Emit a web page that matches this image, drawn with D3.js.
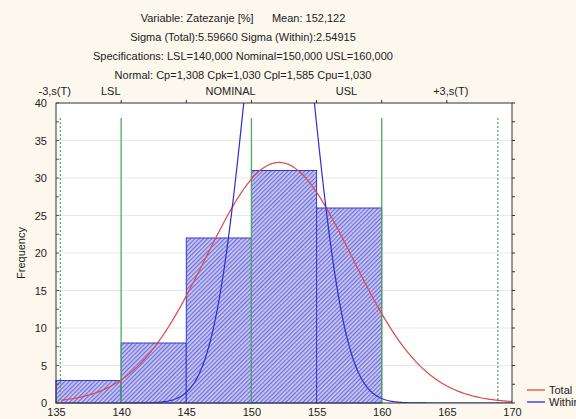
<!DOCTYPE html>
<html>
<head>
<meta charset="utf-8">
<script src="https://cdn.jsdelivr.net/npm/d3@7"></script>
<style>
  body { margin: 0; background: #fcf8ee; overflow: hidden; }
  text { font-family: "Liberation Sans", Arial, sans-serif; font-size: 11px; fill: #222; }
</style>
</head>
<body>
<svg id="chart" width="576" height="419" style="display:block"></svg>
<script>
// histogram bins (lower edge, upper edge, count)
const binStart = [135, 140, 145, 150, 155];
const binEnd = [140, 145, 150, 155, 160];
const binCount = [3, 8, 22, 31, 26];

// fit parameters as printed in the header
const mean = 152.122;
const sigmaTotal = 5.59660;
const sigmaWithin = 2.54915;

const specNames = ["LSL", "NOMINAL", "USL"];
const specValues = [140, 150, 160];
const sigmaLimits = [mean - 3 * sigmaTotal, mean + 3 * sigmaTotal];

const titleLines = [
  "Variable: Zatezanje [%]      Mean: 152,122",
  "Sigma (Total):5.59660 Sigma (Within):2.54915",
  "Specifications: LSL=140,000 Nominal=150,000 USL=160,000",
  "Normal: Cp=1,308 Cpk=1,030 Cpl=1,585 Cpu=1,030"
];
const topLabels = ["-3,s(T)", "LSL", "NOMINAL", "USL", "+3,s(T)"];
const topLabelAt = [134.9, 139.2, 148.4, 157.3, 165.3];
const xTicks = [135, 140, 145, 150, 155, 160, 165, 170];
const yTicks = [0, 5, 10, 15, 20, 25, 30, 35, 40];

const svg = d3.select("#chart");
const pLeft = 56, pRight = 512, pTop = 103, pBottom = 403;

const x = d3.scaleLinear().domain([135, 170]).range([pLeft, pRight]);
const y = d3.scaleLinear().domain([0, 40]).range([pBottom, pTop]);

// hatch pattern for bars
const defs = svg.append("defs");
const pat = defs.append("pattern")
  .attr("id", "hatch")
  .attr("patternUnits", "userSpaceOnUse")
  .attr("width", 3).attr("height", 3)
  .attr("patternTransform", "rotate(-45)");
pat.append("rect").attr("width", 3).attr("height", 3).attr("fill", "#cacaf5");
pat.append("rect").attr("width", 3).attr("height", 1.2).attr("fill", "#6c6cd8");

defs.append("clipPath").attr("id", "plotClip")
  .append("rect").attr("x", pLeft).attr("y", pTop)
  .attr("width", pRight - pLeft).attr("height", pBottom - pTop);

// plot area
svg.append("rect").attr("x", pLeft).attr("y", pTop)
  .attr("width", pRight - pLeft).attr("height", pBottom - pTop)
  .attr("fill", "#fff");

// gridlines
svg.append("g").selectAll("line")
  .data(yTicks.filter(t => t > 0 && t < 40))
  .enter().append("line")
  .attr("x1", pLeft).attr("x2", pRight)
  .attr("y1", d => y(d)).attr("y2", d => y(d))
  .attr("stroke", "#e8e8e8");

// bars
svg.append("g").selectAll("rect")
  .data(binCount)
  .enter().append("rect")
  .attr("x", (d, i) => x(binStart[i]))
  .attr("width", (d, i) => x(binEnd[i]) - x(binStart[i]))
  .attr("y", d => y(d))
  .attr("height", d => y(0) - y(d))
  .attr("fill", "url(#hatch)")
  .attr("stroke", "#3838cc")
  .attr("stroke-width", 1);

// spec lines
svg.append("g").selectAll("line")
  .data(specValues)
  .enter().append("line")
  .attr("x1", d => x(d)).attr("x2", d => x(d))
  .attr("y1", y(38)).attr("y2", y(0))
  .attr("stroke", "#4caa58").attr("stroke-width", 1.3);

// +-3 sigma lines
svg.append("g").selectAll("line")
  .data(sigmaLimits)
  .enter().append("line")
  .attr("x1", d => x(d)).attr("x2", d => x(d))
  .attr("y1", y(38)).attr("y2", y(0))
  .attr("stroke", "#4caa58").attr("stroke-width", 1.2)
  .attr("stroke-dasharray", "2,2");

// fitted normal curves
const total = d3.sum(binCount);
const binWidth = binEnd[0] - binStart[0];
function normal(v, s) {
  return total * binWidth / (s * Math.sqrt(2 * Math.PI)) * Math.exp(-0.5 * ((v - mean) / s) ** 2);
}
const xs = d3.range(135.4, 170.01, 0.1);
const line = d3.line().x(d => x(d[0])).y(d => y(d[1]));

const curves = svg.append("g").attr("clip-path", "url(#plotClip)");
curves.append("path")
  .datum(xs.map(v => [v, normal(v, sigmaTotal)]))
  .attr("d", line).attr("fill", "none")
  .attr("stroke", "#e04848").attr("stroke-width", 1.2);
curves.append("path")
  .datum(xs.filter(v => v > 140).map(v => [v, normal(v, sigmaWithin)]))
  .attr("d", line).attr("fill", "none")
  .attr("stroke", "#2e2ed0").attr("stroke-width", 1.2);

// frame
svg.append("rect").attr("x", pLeft).attr("y", pTop)
  .attr("width", pRight - pLeft).attr("height", pBottom - pTop)
  .attr("fill", "none").attr("stroke", "#333");

// axes
svg.append("g").attr("transform", `translate(0,${pBottom})`)
  .call(d3.axisBottom(x).tickValues(xTicks).tickSize(0).tickPadding(5))
  .call(g => g.select(".domain").remove())
  .selectAll("text").attr("fill", "#222").style("font-size", "11px");

svg.append("g").attr("transform", `translate(${pLeft},0)`)
  .call(d3.axisLeft(y).tickValues(yTicks).tickSize(0).tickPadding(9))
  .call(g => g.select(".domain").remove())
  .selectAll("text").attr("fill", "#222").style("font-size", "11px");

// small ticks on top and right edges
svg.append("g").selectAll("line")
  .data(xTicks.slice(1, -1))
  .enter().append("line")
  .attr("x1", d => x(d)).attr("x2", d => x(d))
  .attr("y1", pTop - 3).attr("y2", pTop)
  .attr("stroke", "#333");
const minorY = d3.range(0, 41, 2.5);
svg.append("g").selectAll("line")
  .data(minorY)
  .enter().append("line")
  .attr("x1", pRight).attr("x2", pRight + 3)
  .attr("y1", d => y(d)).attr("y2", d => y(d))
  .attr("stroke", "#333");
svg.append("g").selectAll("line")
  .data(minorY)
  .enter().append("line")
  .attr("x1", pLeft).attr("x2", pLeft + 3)
  .attr("y1", d => y(d)).attr("y2", d => y(d))
  .attr("stroke", "#555");

// y title
svg.append("text")
  .attr("transform", `translate(25,${(pTop + pBottom) / 2}) rotate(-90)`)
  .attr("text-anchor", "middle")
  .text("Frequency");

// header
svg.append("g").selectAll("text")
  .data(titleLines)
  .enter().append("text")
  .attr("x", 243).attr("y", (d, i) => 22 + i * 19)
  .attr("text-anchor", "middle")
  .attr("xml:space", "preserve")
  .text(d => d);

svg.append("g").selectAll("text")
  .data(topLabels)
  .enter().append("text")
  .attr("x", (d, i) => x(topLabelAt[i]))
  .attr("y", 95)
  .attr("text-anchor", "middle")
  .text(d => d);

// legend
const legend = [["Total", "#e04848"], ["Within", "#2e2ed0"]];
const lg = svg.append("g").selectAll("g")
  .data(legend).enter().append("g")
  .attr("transform", (d, i) => `translate(527,${390 + i * 12})`);
lg.append("line").attr("x1", 0).attr("x2", 18)
  .attr("stroke", d => d[1]).attr("stroke-width", 1.3);
lg.append("text").attr("x", 22).attr("y", 4).text(d => d[0]);
</script>
</body>
</html>
